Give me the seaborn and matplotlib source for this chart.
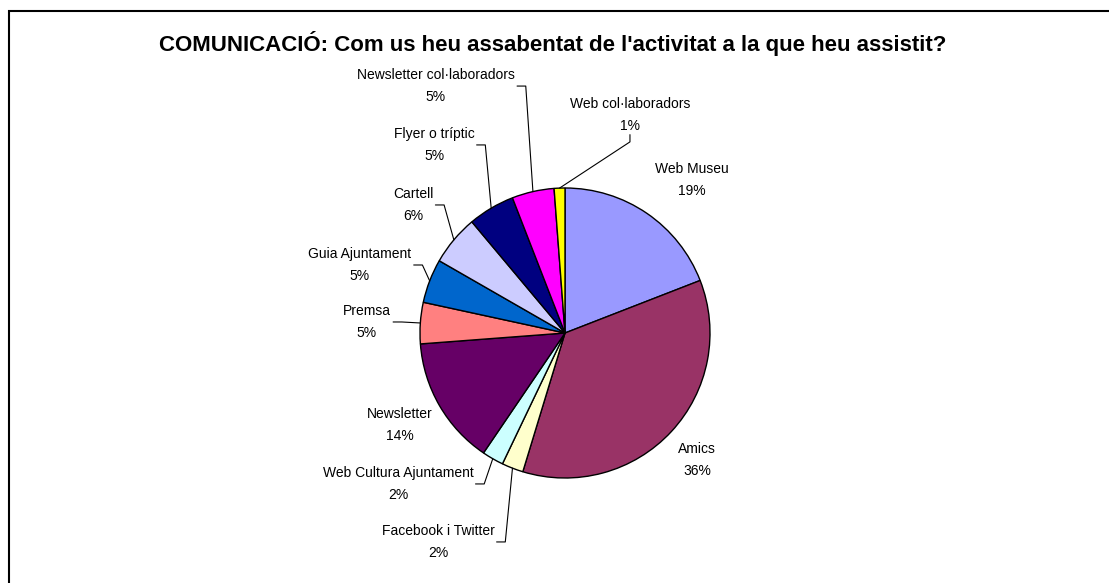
import numpy as np
import seaborn as sns
import matplotlib.pyplot as plt
import matplotlib.patches as mpatches

categories = ['Web Museu', 'Amics', 'Facebook i Twitter', 'Web Cultura Ajuntament',
              'Newsletter', 'Premsa', 'Guia Ajuntament', 'Cartell', 'Flyer o tríptic',
              'Newsletter col·laboradors', 'Web col·laboradors']
values = [19.1, 35.6, 2.4, 2.4, 14.3, 4.6, 4.9, 5.6, 5.2, 4.7, 1.2]
colors = ['#9999FF', '#993366', '#FFFFCC', '#CCFFFF', '#660066', '#FF8080',
          '#0066CC', '#CCCCFF', '#000080', '#FF00FF', '#FFFF00']
title = "COMUNICACIÓ: Com us heu assabentat de l'activitat a la que heu assistit?"

# posicio de les etiquetes (unitats del radi) i tipus de linia guia
label_pos = [(0.876, 1.055), (0.910, -0.876), (-0.876, -1.441), (-1.152, -1.041),
             (-1.138, -0.634), (-1.366, 0.076), (-1.414, 0.469), (-1.048, 0.883),
             (-0.903, 1.297), (-0.890, 1.703), (0.448, 1.503)]
leader = ['', '', 'h', 'h', '', 'h', 'h', 'h', 'h', 'h', 'v']

sns.set_style("white")
plt.rcParams['font.family'] = ['Liberation Sans', 'DejaVu Sans']

W, H = 1109, 583
cx, cy, R = 565, 333, 145

fig = plt.figure(figsize=(W / 100, H / 100), dpi=100)
ax = fig.add_axes([0, 0, 1, 1])
wedges, _ = ax.pie(values, colors=sns.color_palette(colors), startangle=90,
                   counterclock=False, radius=1,
                   wedgeprops=dict(edgecolor='black', linewidth=1))
ax.set_xlim(-cx / R, (W - cx) / R)
ax.set_ylim(-(H - cy) / R, cy / R)
ax.set_aspect('auto')
ax.axis('off')

texts = []
for name, v, pos in zip(categories, values, label_pos):
    t = ax.text(pos[0], pos[1], f"{name}\n{round(v)}%", ha='center', va='center',
                fontsize=10, linespacing=1.75, color='black')
    texts.append(t)

fig.canvas.draw()
renderer = fig.canvas.get_renderer()
inv = ax.transData.inverted()
for w, t, kind in zip(wedges, texts, leader):
    if not kind:
        continue
    mid = np.deg2rad((w.theta1 + w.theta2) / 2)
    px, py = np.cos(mid), np.sin(mid)
    bb = t.get_window_extent(renderer).transformed(inv)
    if kind == 'h':
        ym = (bb.y0 + bb.y1) / 2
        x0 = bb.x1 + 0.015
        xs = [x0, x0 + 0.06, px]
        ys = [ym, ym, py]
    else:
        xm = (bb.x0 + bb.x1) / 2
        y0 = bb.y0 - 0.01
        xs = [xm, xm, px]
        ys = [y0, y0 - 0.05, py]
    ax.plot(xs, ys, color='black', linewidth=0.8)

fig.text(553 / W, 1 - 44 / H, title, ha='center', va='center', fontsize=16,
         fontweight='bold', color='black')

fig.patches.append(mpatches.Rectangle((9 / W, -0.1), 1.2, 1.1 - 11 / H,
                                      transform=fig.transFigure, fill=False,
                                      edgecolor='black', linewidth=1.5))

plt.savefig('out.png', dpi=100)
